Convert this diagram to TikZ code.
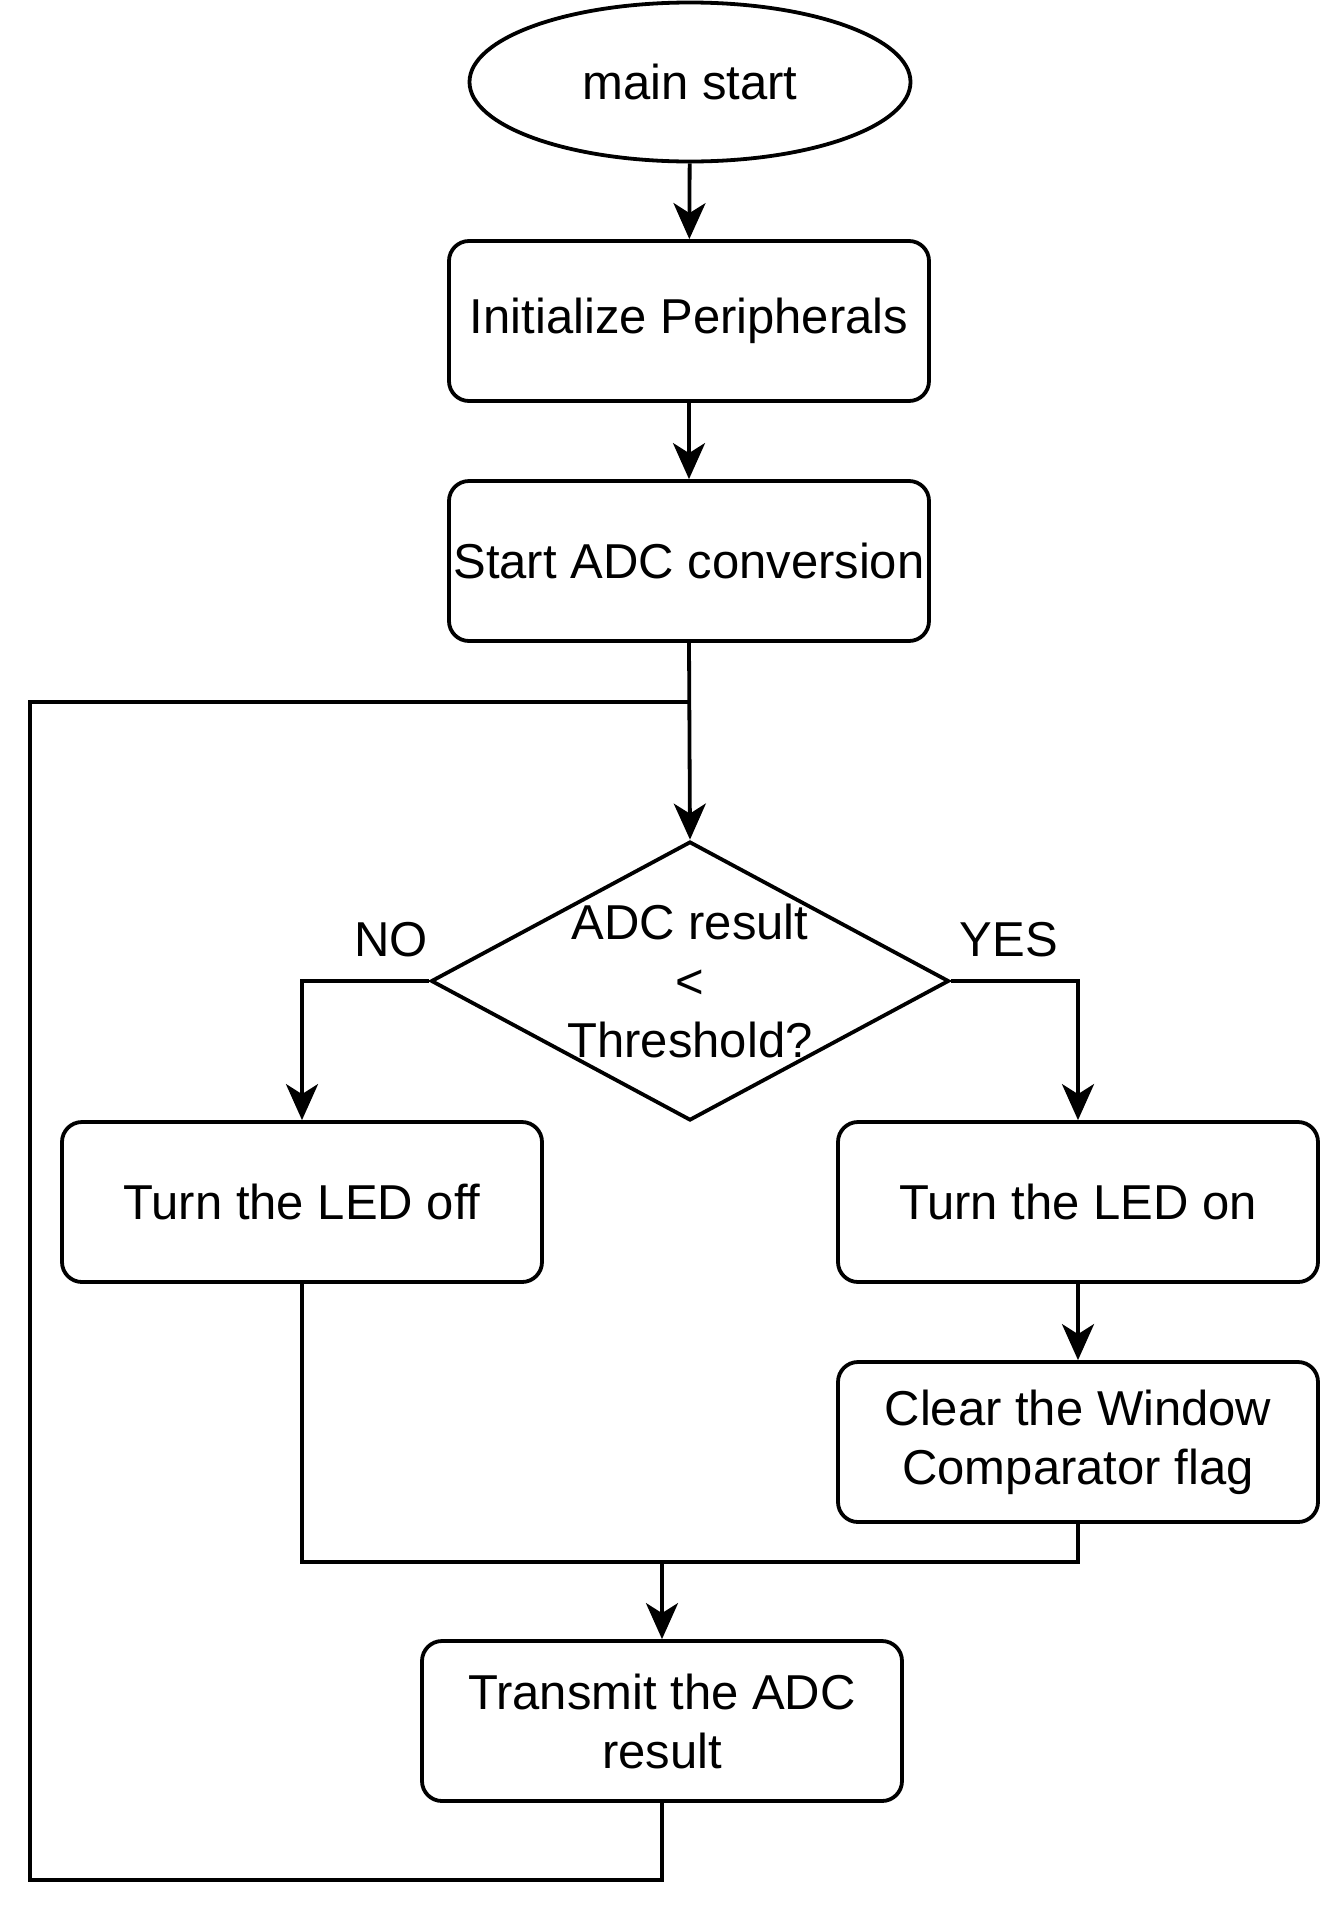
\documentclass[tikz,border=0pt]{standalone}
\usepackage{fontspec}
\setmainfont{Liberation Sans}
\usetikzlibrary{shapes.geometric,arrows.meta}
\begin{document}
\begin{tikzpicture}[x=1pt,y=-1pt,
  every node/.style={font=\fontsize{49}{59}\selectfont},
  stepbox/.style={draw,line width=3.8pt,rounded corners=20pt,minimum width=480pt,minimum height=160pt,inner sep=0pt,align=center},
  startnode/.style={draw,line width=3.8pt,ellipse,minimum width=441pt,minimum height=159pt,inner sep=0pt},
  decision/.style={draw,line width=3.8pt,diamond,aspect=1.857,minimum width=518pt,minimum height=279pt,inner sep=0pt},
  txt/.style={align=center,inner sep=0pt},
  conn/.style={line width=3.8pt},
  arr/.style={line width=3.8pt,-{Stealth[length=36pt,width=32pt,inset=10pt]}}]
\useasboundingbox (0,0) rectangle (1320,1920);
\node[startnode] (start) at (690,82) {main start};
\node[stepbox] (init) at (689,321) {Initialize Peripherals};
\node[stepbox] (adc) at (689,561) {Start ADC conversion};
\node[decision] (dec) at (690,981) {};
\node[txt] (dectext) at (dec) {ADC result\\<\\Threshold?};
\node[stepbox] (off) at (302,1202) {Turn the LED off};
\node[stepbox] (on) at (1078,1202) {Turn the LED on};
\node[stepbox] (clear) at (1078,1442) {Clear the Window\\Comparator flag};
\node[stepbox] (trans) at (662,1721) {Transmit the ADC\\result};
\node[txt] (no) at (391,940) {NO};
\node[txt] (yes) at (1009,940) {YES};
\coordinate (lt) at (30,702);
\coordinate (lb) at (30,1880);
\coordinate (mrg) at (662,1562);
\draw[arr] (start) -- (init);
\draw[arr] (init) -- (adc);
\draw[arr] (adc.south) -- (dec.north);
\draw[conn] (trans.south) |- (lb) -- (lt) -- (adc.south |- lt);
\draw[arr] (dec.west) -| (off.north);
\draw[arr] (dec.east) -| (on.north);
\draw[arr] (on) -- (clear);
\draw[conn] (off.south) |- (mrg) -| (clear.south);
\draw[arr] (mrg) -- (trans.north);
\end{tikzpicture}
\end{document}
